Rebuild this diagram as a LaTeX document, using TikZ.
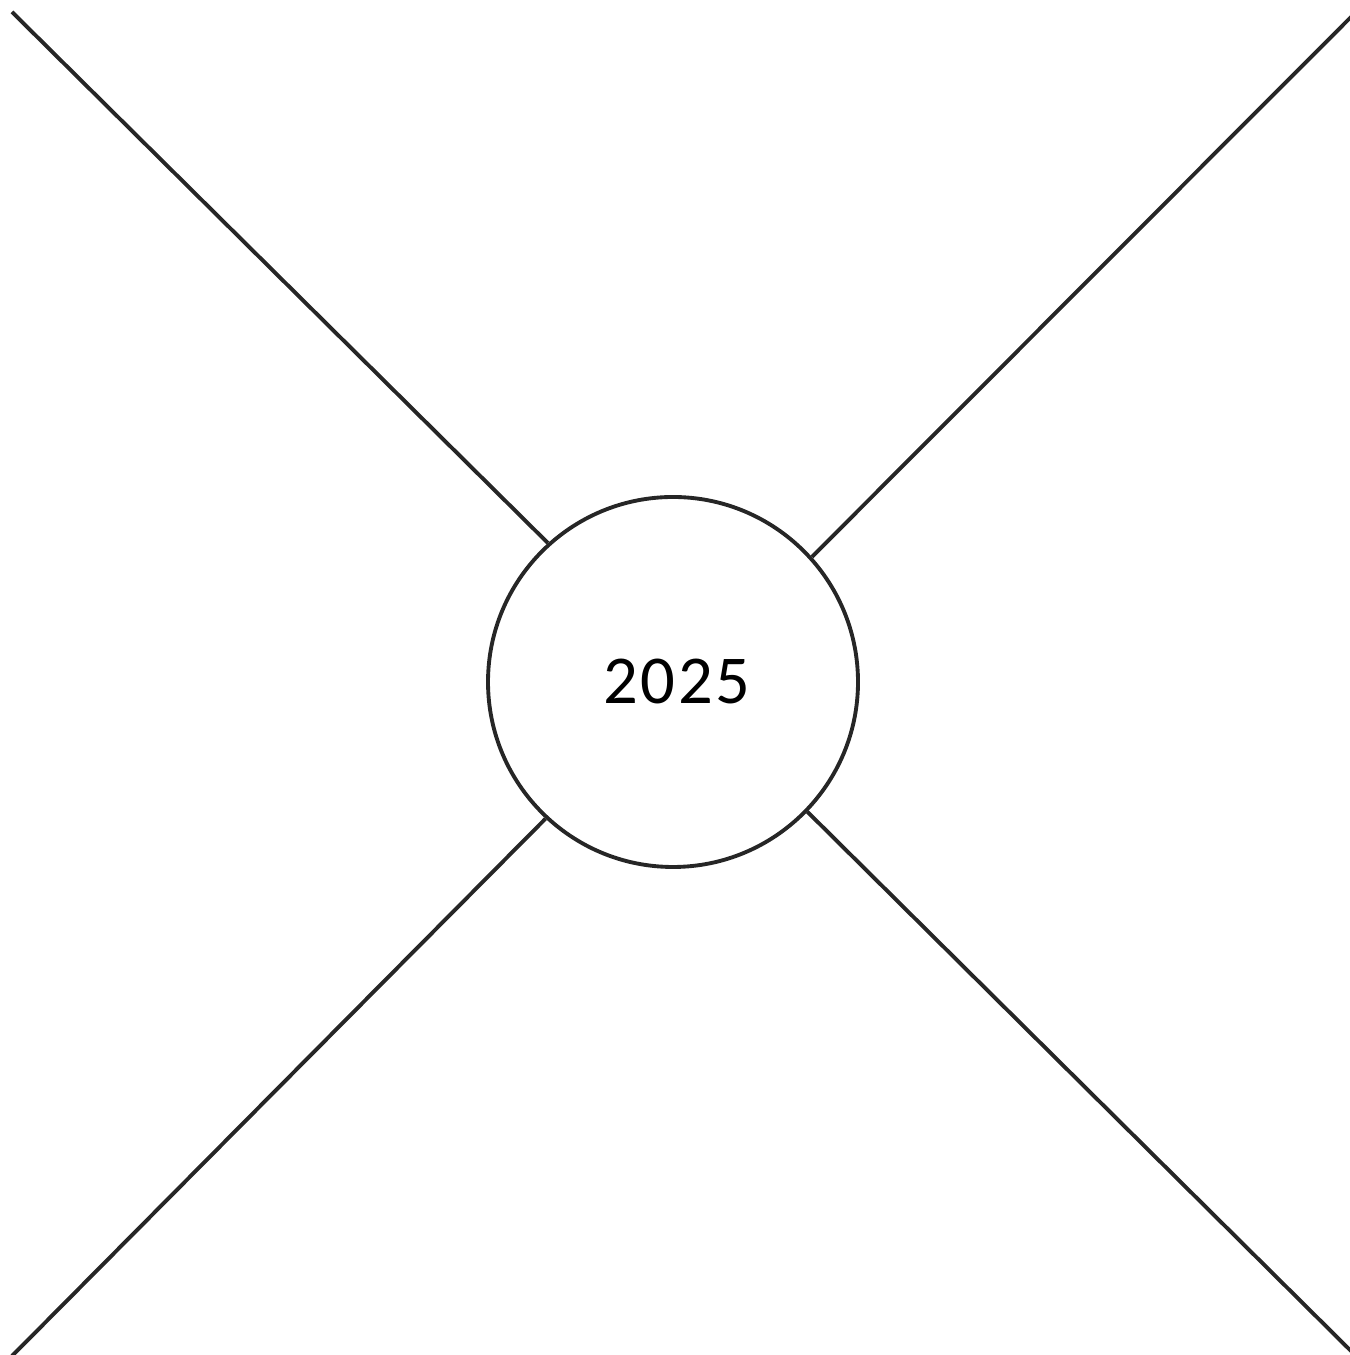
\documentclass[tikz,border=0pt]{standalone}
\usepackage{fontspec}
\setmainfont{Carlito}
\newfontfamily\yearfont[LetterSpace=4]{Carlito}
\usetikzlibrary{positioning, calc}

\begin{document}
\begin{tikzpicture}[
            year/.style={circle, draw=black!85, line width=1.1pt, minimum size=3.70cm, inner sep=0pt, font=\yearfont\fontsize{19.5}{22}\selectfont},
            spoke/.style={line width=1.1pt, draw=black!85}
        ]
            % --- 1. 枠 ---
            \useasboundingbox (0,0) rectangle (13.49,13.55);

            % --- 2. ノード配置 ---
            \node[year] (yr) at (6.73,6.73) {\hspace{0.08cm}2025};
            \coordinate (tl) at (0.12,13.43);
            \coordinate (tr) at (13.53,13.40);
            \coordinate (bl) at (0.10,-0.03);
            \coordinate (br) at (13.53,0.02);

            % --- 3. 線 ---
            \draw[spoke] (tl) -- (yr.132.6);
            \draw[spoke] (tr) -- (yr.42);
            \draw[spoke] (bl) -- (yr.227.8);
            \draw[spoke] (br) -- (yr.316.5);

        \end{tikzpicture}
\end{document}
